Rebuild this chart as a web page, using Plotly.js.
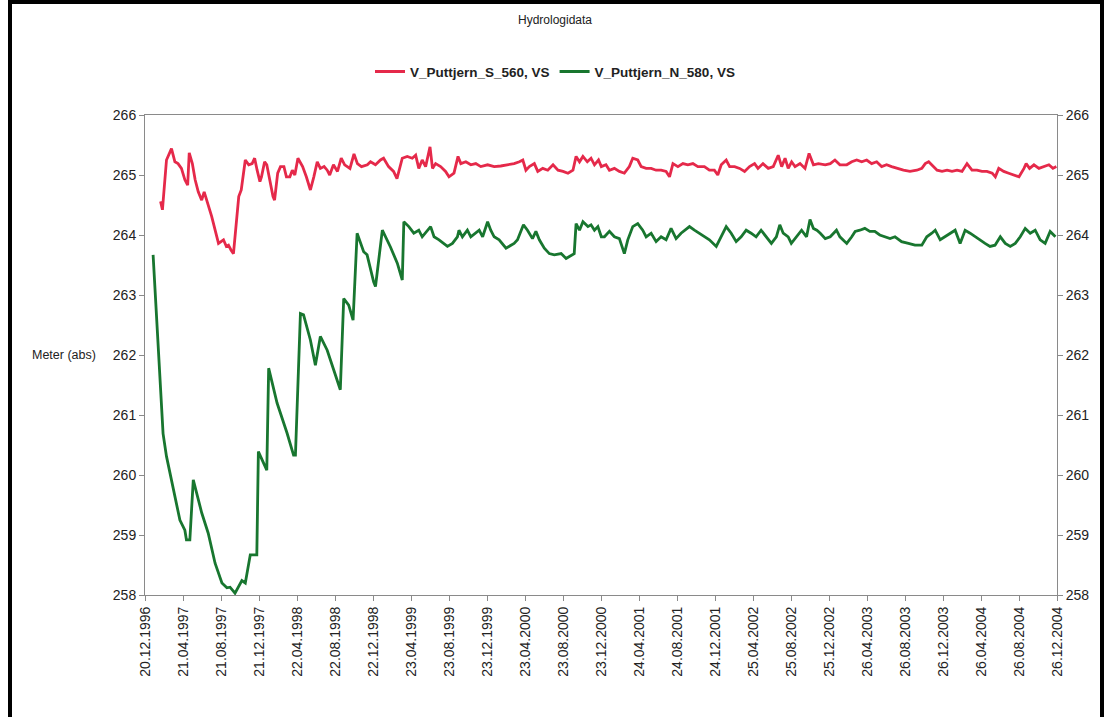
<!DOCTYPE html>
<html>
<head>
<meta charset="utf-8">
<script src="https://cdn.plot.ly/plotly-3.0.1.min.js"></script>
<style>
  html, body { margin: 0; padding: 0; background: #fff; overflow: hidden; }
  #wrap { position: relative; width: 1110px; height: 717px; }
  #chart { position: absolute; left: 0; top: 0; width: 1110px; height: 717px; }
  #frame { position: absolute; left: 8px; top: 0; width: 1096px; height: 740px;
           border: 4px solid #000; border-bottom: none; box-sizing: border-box; pointer-events: none; }
</style>
</head>
<body>
<div id="wrap">
  <div id="chart"></div>
  <div id="frame"></div>
</div>
<script>
// Axis labels along the time axis (every fourth month)
const tickLabels = ['20.12.1996','21.04.1997','21.08.1997','21.12.1997','22.04.1998','22.08.1998',
  '22.12.1998','23.04.1999','23.08.1999','23.12.1999','23.04.2000','23.08.2000','23.12.2000',
  '24.04.2001','24.08.2001','24.12.2001','25.04.2002','25.08.2002','25.12.2002','26.04.2003',
  '26.08.2003','26.12.2003','26.04.2004','26.08.2004','26.12.2004'];

// V_Puttjern_S_560, VS – water level (m a.s.l.)
const southDates = [
  '1997-02-08','1997-02-14','1997-02-27','1997-03-15','1997-03-26','1997-04-05','1997-04-16','1997-04-27',
  '1997-05-06','1997-05-11','1997-05-21','1997-05-30','1997-06-09','1997-06-20','1997-06-28','1997-07-06',
  '1997-07-22','1997-08-13','1997-08-29','1997-09-07','1997-09-14','1997-09-22','1997-09-30','1997-10-17',
  '1997-10-25','1997-11-07','1997-11-18','1997-11-29','1997-12-07','1997-12-15','1997-12-24','1997-12-29',
  '1998-01-08','1998-01-15','1998-01-24','1998-02-04','1998-02-09','1998-02-19','1998-02-28','1998-03-11',
  '1998-03-19','1998-03-30','1998-04-07','1998-04-15','1998-04-25','1998-05-10','1998-05-22','1998-06-04',
  '1998-06-15','1998-06-26','1998-07-06','1998-07-18','1998-07-28','1998-08-05','1998-08-17','1998-08-30',
  '1998-09-11','1998-09-22','1998-10-09','1998-10-22','1998-11-02','1998-11-15','1998-12-04','1998-12-14',
  '1998-12-30',
  '1999-01-15','1999-01-25','1999-02-10','1999-02-26','1999-03-09','1999-03-26','1999-04-11','1999-04-27',
  '1999-05-08','1999-05-18','1999-05-29','1999-06-09','1999-06-23','1999-07-01','1999-07-11','1999-07-27',
  '1999-08-12','1999-08-23','1999-09-08','1999-09-21','1999-09-30','1999-10-16','1999-11-01','1999-11-17',
  '1999-12-03','1999-12-25',
  '2000-01-15','2000-02-05','2000-02-27','2000-03-19','2000-04-05','2000-04-16','2000-04-26','2000-05-07',
  '2000-05-23','2000-06-03','2000-06-19','2000-07-05','2000-07-22','2000-08-07','2000-08-23','2000-09-08',
  '2000-09-24','2000-10-04','2000-10-15','2000-10-26','2000-11-09','2000-11-21','2000-12-02','2000-12-15',
  '2000-12-24',
  '2001-01-08','2001-01-19','2001-02-04','2001-02-20','2001-03-08','2001-03-24','2001-04-04','2001-04-20',
  '2001-05-01','2001-05-17','2001-06-02','2001-06-18','2001-07-04','2001-07-20','2001-07-31','2001-08-11',
  '2001-08-27','2001-09-12','2001-09-28','2001-10-14','2001-10-30','2001-11-20','2001-12-06','2001-12-22',
  '2002-01-02','2002-01-13','2002-01-29','2002-02-09','2002-02-25','2002-03-13','2002-03-29','2002-04-14',
  '2002-04-30','2002-05-11','2002-05-27','2002-06-13','2002-06-29','2002-07-15','2002-07-26','2002-08-06',
  '2002-08-16','2002-08-27','2002-09-07','2002-09-23','2002-10-09','2002-10-22','2002-11-05','2002-11-21',
  '2002-12-13','2002-12-29',
  '2003-01-13','2003-01-29','2003-02-20','2003-03-08','2003-03-24','2003-04-09','2003-04-25','2003-05-11',
  '2003-05-27','2003-06-12','2003-06-28','2003-07-14','2003-07-30','2003-08-21','2003-09-11','2003-10-03',
  '2003-10-19','2003-10-30','2003-11-10','2003-11-20','2003-12-07','2003-12-23',
  '2004-01-08','2004-01-24','2004-02-09','2004-02-25','2004-03-12','2004-03-28','2004-04-13','2004-04-29',
  '2004-05-15','2004-06-01','2004-06-11','2004-06-22','2004-07-08','2004-07-24','2004-08-09','2004-08-26',
  '2004-09-11','2004-09-18','2004-09-29','2004-10-13','2004-10-29','2004-11-14','2004-11-30','2004-12-13',
  '2004-12-24'];
const southLevel = [
  264.56,264.42,265.25,265.44,265.22,265.19,265.11,264.92,
  264.83,265.37,265.19,264.92,264.72,264.58,264.72,264.58,
  264.31,263.86,263.92,263.81,263.83,263.75,263.69,264.64,
  264.75,265.25,265.17,265.19,265.28,265.08,264.89,264.97,
  265.22,265.17,264.92,264.64,264.58,265.03,265.14,265.14,
  264.97,264.97,265.08,265.00,265.28,265.14,264.97,264.75,
  264.97,265.22,265.11,265.14,265.08,265.00,265.17,265.06,
  265.28,265.17,265.11,265.35,265.19,265.14,265.17,265.22,
  265.17,
  265.25,265.28,265.14,265.06,264.94,265.28,265.31,265.28,
  265.33,265.11,265.25,265.14,265.47,265.11,265.19,265.14,
  265.06,264.97,265.03,265.31,265.19,265.22,265.17,265.19,
  265.14,265.17,
  265.14,265.15,265.17,265.19,265.22,265.25,265.08,265.14,
  265.19,265.06,265.11,265.08,265.17,265.08,265.06,265.03,
  265.08,265.31,265.22,265.31,265.22,265.28,265.17,265.25,
  265.14,
  265.17,265.08,265.11,265.06,265.03,265.14,265.28,265.25,
  265.14,265.11,265.11,265.08,265.08,265.06,264.97,265.19,
  265.14,265.19,265.17,265.19,265.14,265.14,265.08,265.08,
  265.00,265.17,265.25,265.14,265.14,265.11,265.06,265.14,
  265.19,265.11,265.19,265.11,265.14,265.33,265.14,265.28,
  265.11,265.22,265.14,265.19,265.11,265.36,265.17,265.19,
  265.17,265.19,
  265.25,265.17,265.17,265.22,265.25,265.22,265.25,265.19,
  265.22,265.14,265.17,265.14,265.11,265.08,265.06,265.08,
  265.11,265.19,265.22,265.17,265.08,265.06,
  265.08,265.06,265.08,265.06,265.19,265.08,265.08,265.06,
  265.06,265.03,264.97,265.11,265.06,265.03,265.00,264.97,
  265.11,265.19,265.11,265.17,265.11,265.14,265.17,265.11,
  265.14];

// V_Puttjern_N_580, VS – water level (m a.s.l.)
const northDates = [
  '1997-01-15','1997-02-16','1997-02-27','1997-03-15','1997-04-11','1997-04-27','1997-05-02','1997-05-13',
  '1997-05-24','1997-06-20','1997-07-11','1997-08-02','1997-08-24','1997-09-09','1997-09-19','1997-10-05',
  '1997-10-27','1997-11-07','1997-11-23','1997-12-14','1997-12-19',
  '1998-01-15','1998-01-21','1998-02-17','1998-03-21','1998-04-11','1998-04-17','1998-05-03','1998-05-13',
  '1998-06-04','1998-06-20','1998-07-06','1998-07-28','1998-08-18','1998-09-08','1998-09-19','1998-10-05',
  '1998-10-19','1998-11-01','1998-11-22','1998-12-03','1998-12-24','1998-12-30',
  '1999-01-21','1999-02-16','1999-03-10','1999-03-26','1999-03-31','1999-04-16','1999-05-02','1999-05-18',
  '1999-05-29','1999-06-14','1999-06-25','1999-07-06','1999-07-22','1999-08-18','1999-09-03','1999-09-19',
  '1999-09-24','1999-10-05','1999-10-21','1999-11-01','1999-11-17','1999-11-28','1999-12-09','1999-12-19',
  '1999-12-25',
  '2000-01-04','2000-01-15','2000-01-31','2000-02-22','2000-03-09','2000-03-19','2000-03-30','2000-04-10',
  '2000-04-18','2000-05-01','2000-05-17','2000-05-28','2000-06-08','2000-06-24','2000-07-10','2000-07-26',
  '2000-08-17','2000-09-02','2000-09-12','2000-09-28','2000-10-04','2000-10-15','2000-10-26','2000-11-11',
  '2000-11-21','2000-12-02','2000-12-13','2000-12-24',
  '2001-01-03','2001-01-19','2001-02-04','2001-02-20','2001-03-08','2001-03-19','2001-04-04','2001-04-20',
  '2001-05-06','2001-05-17','2001-06-02','2001-06-18','2001-07-04','2001-07-20','2001-08-05','2001-08-21',
  '2001-09-06','2001-09-17','2001-10-03','2001-10-19','2001-11-04','2001-11-20','2001-12-06','2001-12-28',
  '2002-01-13','2002-01-29','2002-02-14','2002-03-02','2002-03-18','2002-04-03','2002-04-19','2002-05-05',
  '2002-05-21','2002-06-07','2002-06-23','2002-07-09','2002-07-20','2002-07-31','2002-08-16','2002-08-26',
  '2002-09-12','2002-09-28','2002-10-14','2002-10-25','2002-11-05','2002-11-16','2002-11-27','2002-12-13',
  '2002-12-29',
  '2003-01-18','2003-01-29','2003-02-20','2003-03-08','2003-03-19','2003-04-03','2003-04-19','2003-05-05',
  '2003-05-21','2003-06-06','2003-06-23','2003-07-09','2003-07-25','2003-08-15','2003-09-06','2003-09-27',
  '2003-10-19','2003-11-04','2003-11-20','2003-12-01','2003-12-17',
  '2004-01-02','2004-01-18','2004-02-03','2004-02-19','2004-03-06','2004-03-22','2004-04-07','2004-04-23',
  '2004-05-09','2004-05-25','2004-06-10','2004-06-27','2004-07-13','2004-07-29','2004-08-14','2004-08-30',
  '2004-09-15','2004-10-01','2004-10-17','2004-11-02','2004-11-18','2004-12-04','2004-12-21'];
const northLevel = [
  263.67,260.69,260.31,259.92,259.25,259.08,258.92,258.92,
  259.92,259.37,259.03,258.53,258.20,258.12,258.13,258.03,
  258.24,258.20,258.67,258.67,260.39,
  260.08,261.78,261.20,260.70,260.33,260.33,262.69,262.67,
  262.25,261.83,262.31,262.08,261.75,261.42,262.94,262.83,
  262.58,264.03,263.72,263.67,263.22,263.14,
  264.08,263.80,263.53,263.25,264.22,264.14,264.03,264.08,
  263.97,264.08,264.14,263.97,263.92,263.81,263.86,263.97,
  264.08,263.97,264.08,263.97,264.03,264.08,263.97,264.14,
  264.22,
  264.08,263.97,263.92,263.78,263.83,263.86,263.92,264.08,
  264.17,264.08,263.94,264.06,263.92,263.78,263.69,263.67,
  263.69,263.61,263.64,263.69,264.19,264.08,264.22,264.14,
  264.17,264.08,264.14,263.97,
  263.97,264.06,263.97,263.94,263.69,263.92,264.14,264.19,
  264.08,263.97,264.03,263.89,263.97,263.92,264.11,263.94,
  264.03,264.08,264.14,264.08,264.03,263.97,263.92,263.81,
  263.97,264.14,264.03,263.89,263.97,264.08,264.03,263.97,
  264.08,263.97,263.86,263.97,264.17,264.03,263.97,263.86,
  263.97,264.08,263.97,264.26,264.11,264.08,264.03,263.94,
  263.97,
  264.08,263.97,263.86,263.97,264.06,264.08,264.11,264.06,
  264.06,264.00,263.97,263.94,263.97,263.89,263.86,263.83,
  263.83,263.97,264.03,264.08,263.92,
  263.97,264.03,264.08,263.86,264.08,264.03,263.97,263.92,
  263.86,263.81,263.83,263.97,263.86,263.81,263.86,263.97,
  264.11,264.03,264.08,263.92,263.86,264.06,263.97];

const seriesNames = ['V_Puttjern_S_560, VS', 'V_Puttjern_N_580, VS'];

// dd.mm.yyyy -> yyyy-mm-dd for the date axis
const tickDates = tickLabels.map(s => {
  const p = s.split('.');
  return p[2] + '-' + p[1] + '-' + p[0];
});

const FONT = 'Arial, "Liberation Sans", sans-serif';
const AXIS_GREY = '#8a8a8a';

// Both level axes share the same 258–266 m scale; the north series is bound
// to the right-hand axis so that it is drawn with its own tick labels.
const traces = [
  { x: southDates, y: southLevel, name: seriesNames[0], type: 'scatter', mode: 'lines',
    yaxis: 'y', line: { color: '#e5294a', width: 2.8 } },
  { x: northDates, y: northLevel, name: seriesNames[1], type: 'scatter', mode: 'lines',
    yaxis: 'y2', line: { color: '#18762f', width: 2.8 } }
];

const yCommon = {
  range: [258, 266], dtick: 1, tick0: 258, ticks: 'outside', ticklen: 5, tickcolor: AXIS_GREY,
  showline: true, linecolor: AXIS_GREY, linewidth: 1, showgrid: false, zeroline: false,
  tickfont: { family: FONT, size: 14, color: '#222' }, fixedrange: true
};

const layout = {
  width: 1110, height: 717,
  margin: { l: 145, r: 53, t: 115, b: 122 },
  paper_bgcolor: '#ffffff', plot_bgcolor: '#ffffff',
  font: { family: FONT, color: '#222' },
  title: { text: 'Hydrologidata', x: 0.5, xref: 'container', y: 0.972, yref: 'container',
           yanchor: 'middle', font: { family: FONT, size: 12, color: '#222' } },
  showlegend: true,
  legend: { orientation: 'h', x: 0.5, xref: 'container', xanchor: 'center',
            y: 0.9, yref: 'container', yanchor: 'middle',
            font: { family: FONT, size: 13.5, color: '#222', weight: 'bold' },
            itemwidth: 30, bgcolor: 'rgba(0,0,0,0)' },
  xaxis: {
    type: 'date', range: ['1996-12-20', '2004-12-26'],
    tickmode: 'array', tickvals: tickDates, ticktext: tickLabels, tickangle: -90,
    ticks: 'outside', ticklen: 5, tickcolor: AXIS_GREY,
    showline: true, linecolor: AXIS_GREY, linewidth: 1, mirror: true,
    showgrid: false, zeroline: false,
    tickfont: { family: FONT, size: 14, color: '#222' }, fixedrange: true
  },
  yaxis: Object.assign({}, yCommon, { side: 'left' }),
  yaxis2: Object.assign({}, yCommon, { side: 'right', overlaying: 'y', anchor: 'x' }),
  annotations: [
    { text: 'Meter (abs)', xref: 'paper', yref: 'paper', x: -0.052, y: 0.5,
      xanchor: 'right', yanchor: 'middle', showarrow: false,
      font: { family: FONT, size: 12.5, color: '#222' } }
  ]
};

Plotly.newPlot('chart', traces, layout, { staticPlot: true, displayModeBar: false });
</script>
</body>
</html>
